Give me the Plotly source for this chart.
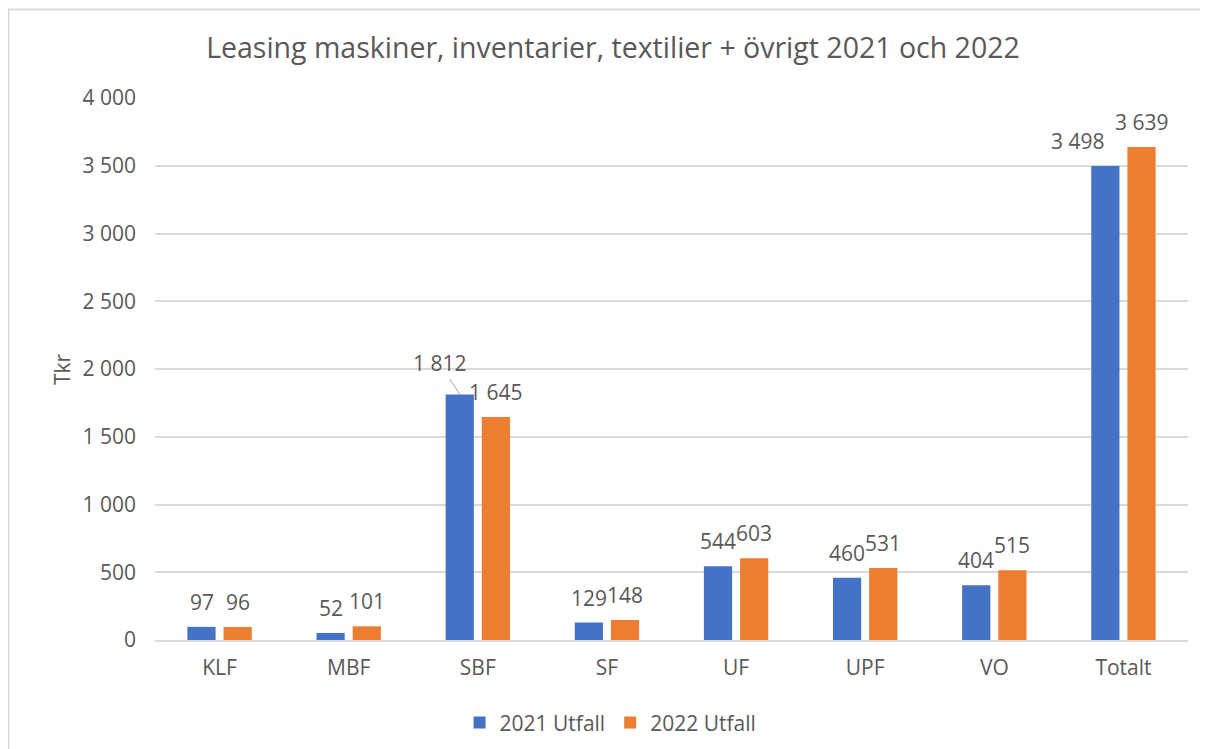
import plotly.graph_objects as go

categories = ["KLF", "MBF", "SBF", "SF", "UF", "UPF", "VO", "Totalt"]
utfall_2021 = [97, 52, 1812, 129, 544, 460, 404, 3498]
utfall_2022 = [96, 101, 1645, 148, 603, 531, 515, 3639]
series_names = ["2021 Utfall", "2022 Utfall"]
y_ticks = [0, 500, 1000, 1500, 2000, 2500, 3000, 3500, 4000]
y_tick_labels = ["0", "500", "1 000", "1 500", "2 000", "2 500", "3 000", "3 500", "4 000"]
title_text = "Leasing maskiner, inventarier, textilier + övrigt 2021 och 2022"

BLUE = "#4472C4"
ORANGE = "#ED7D31"
TXT = "#595959"
FONT = "Open Sans"
FS = 21


def fmt(v):
    return f"{v:,}".replace(",", " ")


fig = go.Figure()
for name, vals, col in [(series_names[0], utfall_2021, BLUE), (series_names[1], utfall_2022, ORANGE)]:
    fig.add_trace(go.Bar(x=categories, y=vals, name=name, marker_color=col,
                         marker_line_width=0))

# data labels
label_nudge = {(0, "SBF"): (-20, 31, True), (0, "Totalt"): (-28, 25, False)}
bar_offset = [-18, 18]
for si, vals in enumerate([utfall_2021, utfall_2022]):
    for c, v in zip(categories, vals):
        dx, dy, arrow = label_nudge.get((si, c), (0, 25, False))
        if arrow:
            fig.add_annotation(x=c, y=v, xref="x", yref="y", text=fmt(v),
                               xshift=bar_offset[si], showarrow=True, arrowhead=0,
                               arrowwidth=1, arrowcolor="#A6A6A6", ax=dx, ay=-dy,
                               font=dict(family=FONT, size=FS, color=TXT))
        else:
            fig.add_annotation(x=c, y=v, xref="x", yref="y", text=fmt(v),
                               xshift=bar_offset[si] + dx, yshift=dy, showarrow=False,
                               yanchor="middle", xanchor="center",
                               font=dict(family=FONT, size=FS, color=TXT))

# y-axis title
fig.add_annotation(text="Tkr", xref="paper", yref="paper", x=0, y=0.5, xshift=-93,
                   textangle=-90, showarrow=False, xanchor="center", yanchor="middle",
                   font=dict(family=FONT, size=FS, color=TXT))

# chart border
fig.add_shape(type="rect", xref="paper", yref="paper", x0=-0.1418, y0=-0.6,
              x1=1.3, y1=1.1634, line=dict(color="#D9D9D9", width=2), layer="below")

fig.update_layout(
    width=1208, height=749,
    margin=dict(l=147, r=28, t=90, b=117),
    paper_bgcolor="white", plot_bgcolor="white",
    barmode="group", bargap=0.44, bargroupgap=0.22,
    title=dict(text=title_text, x=0.5008, xref="container", xanchor="center",
               y=1 - 40 / 749, yref="container", yanchor="middle",
               font=dict(family=FONT, size=28.5, color=TXT)),
    font=dict(family=FONT, size=FS, color=TXT),
    legend=dict(orientation="h", x=0.441, xanchor="center", y=-0.153, yanchor="middle",
                font=dict(family=FONT, size=FS, color=TXT), itemwidth=30,
                traceorder="normal"),
    xaxis=dict(showgrid=False, showline=True, linecolor="#D9D9D9", linewidth=2,
               ticks="", tickfont=dict(family=FONT, size=FS, color=TXT),
               ticklabelstandoff=8),
    yaxis=dict(range=[0, 4000], tickvals=y_ticks, ticktext=y_tick_labels,
               showgrid=True, gridcolor="#D9D9D9", gridwidth=2, zeroline=False,
               showline=False, ticks="", tickfont=dict(family=FONT, size=FS, color=TXT),
               ticklabelstandoff=18),
)

fig.write_html("out.html")
